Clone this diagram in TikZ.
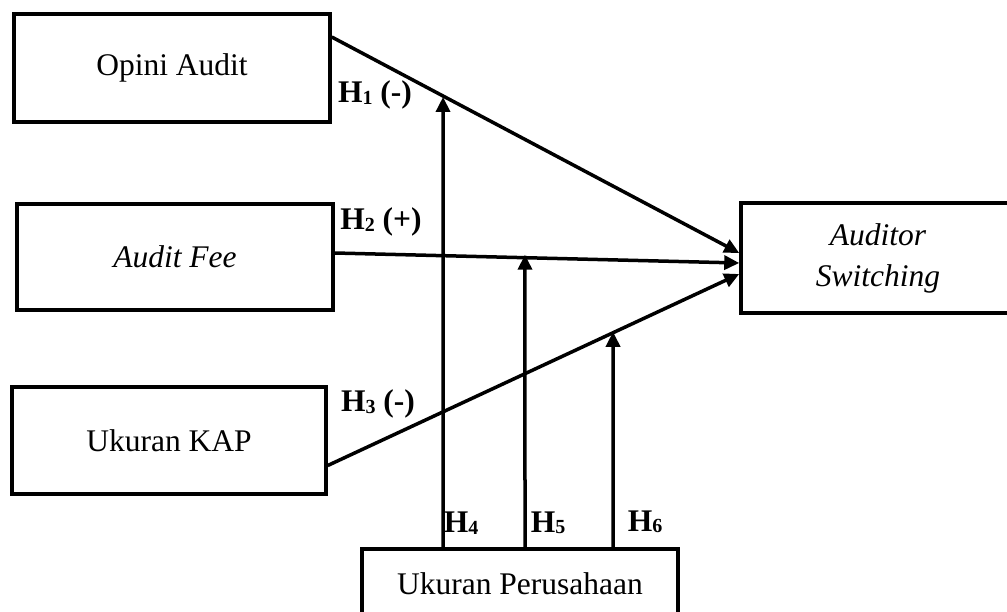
\documentclass[tikz,border=0pt]{standalone}
\usepackage{fontspec}
\setmainfont{Liberation Serif}
\usetikzlibrary{arrows.meta,calc}
\newcommand{\hsub}[1]{\raisebox{-1.5pt}{\fontsize{20}{20}\selectfont #1}}
\begin{document}
\begin{tikzpicture}[x=1pt,y=-1pt,
  box/.style={draw,line width=3.5pt,inner sep=0pt,align=center,font=\fontsize{31.5}{41}\selectfont},
  link/.style={line width=3.5pt,-{Triangle[length=15pt,width=14pt]}},
  hlab/.style={font=\fontsize{31.5}{36}\selectfont\bfseries,inner sep=0pt}]
\useasboundingbox (0,0) rectangle (1007,612);
\node[box,minimum width=316pt,minimum height=108pt] (op) at (172,68) {Opini Audit};
\node[box,minimum width=316pt,minimum height=106pt] (fe) at (175,257) {\itshape Audit Fee};
\node[box,minimum width=314pt,minimum height=107pt] (kap) at (169,440.5) {Ukuran KAP};
\node[box,minimum width=274pt,minimum height=110pt] (as) at (878,258) {\itshape Auditor\\\itshape Switching};
\node[box,minimum width=316pt,minimum height=70pt] (up) at (520,584) {Ukuran Perusahaan};
\coordinate (o1) at ([yshift=31pt]op.east);
\coordinate (o2) at ([yshift=5pt]as.west);
\coordinate (f1) at ([yshift=4pt]fe.east);
\coordinate (f2) at ([yshift=-5pt]as.west);
\coordinate (k1) at ([yshift=-25pt]kap.east);
\coordinate (k2) at ([yshift=-16pt]as.west);
\coordinate (u4) at ([xshift=-77pt]up.north);
\coordinate (u5) at ([xshift=5pt]up.north);
\coordinate (u6) at ([xshift=93pt]up.north);
\coordinate (t4) at (u4 |- 0,0);
\coordinate (t5) at (u5 |- 0,0);
\coordinate (t6) at (u6 |- 0,0);
\draw[link] (o1) -- (o2);
\draw[link] (f1) -- (f2);
\draw[link] (k1) -- (k2);
\draw[link,shorten >=1pt] (u4) -- (intersection of u4--t4 and o1--o2);
\draw[link,shorten >=-3pt] (u5) -- (intersection of u5--t5 and f1--f2);
\draw[link,shorten >=-1pt] (u6) -- (intersection of u6--t6 and k1--k2);
\node[hlab] (h1) at (375,95) {H\hsub{1} (-)};
\node[hlab] (h2) at (381,222) {H\hsub{2} (+)};
\node[hlab] (h3) at (378,404) {H\hsub{3} (-)};
\node[hlab] (h4) at (461,523) {H\hsub{4}};
\node[hlab] (h5) at (548,523) {H\hsub{5}};
\node[hlab] (h6) at (645,522) {H\hsub{6}};
\end{tikzpicture}
\end{document}
